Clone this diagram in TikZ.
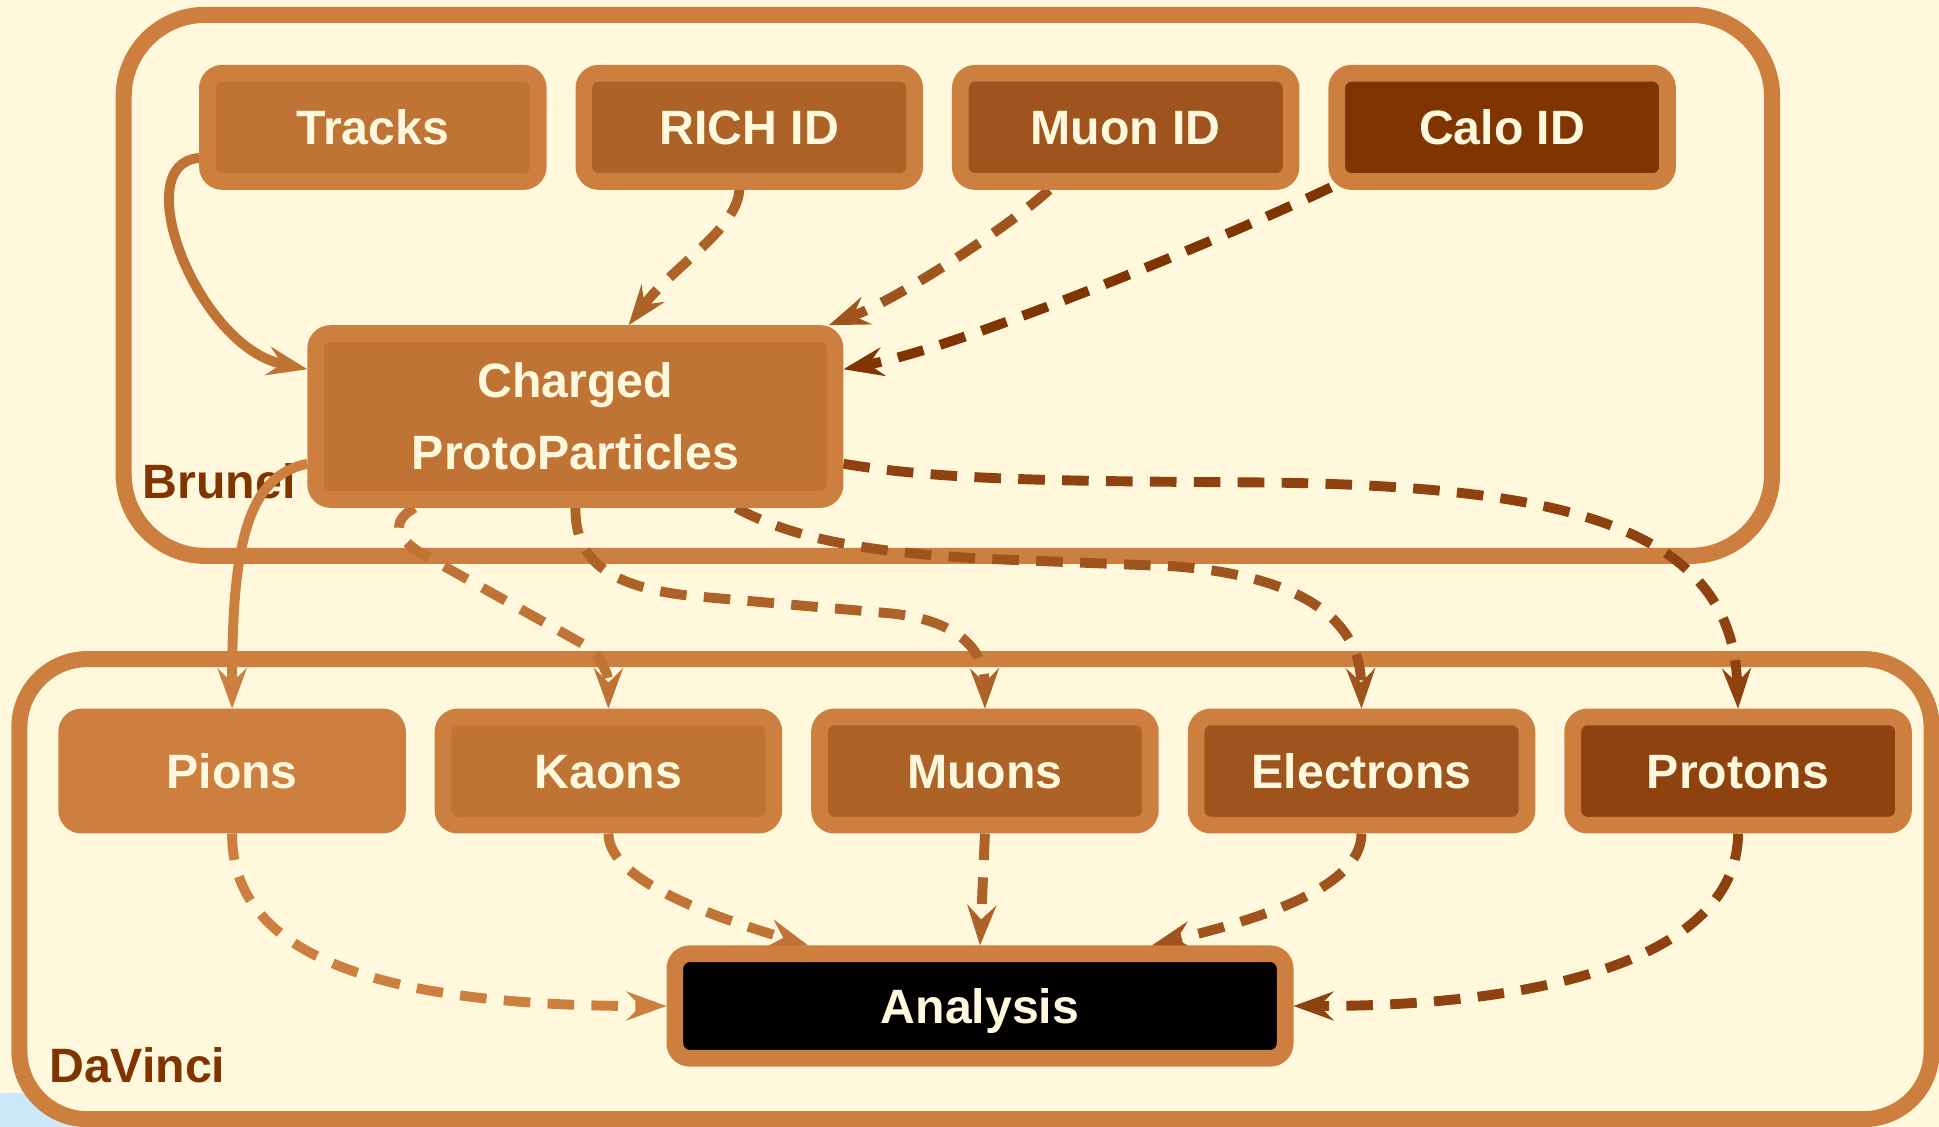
\documentclass[tikz,border=0pt]{standalone}
\usepackage{fontspec}
\setmainfont{Liberation Sans}
\usetikzlibrary{arrows.meta,calc}

% palette: bronze fading to dark brown
\definecolor{cream}{RGB}{255,248,220}
\definecolor{skyhint}{RGB}{205,232,250}
\definecolor{tone0}{RGB}{204,127,62}
\definecolor{tone1}{RGB}{191,116,54}
\definecolor{tone2}{RGB}{173,99,39}
\definecolor{tone3}{RGB}{159,83,29}
\definecolor{tone4}{RGB}{142,66,15}
\definecolor{tone5}{RGB}{128,52,0}

\pgfdeclarelayer{boxes}
\pgfdeclarelayer{links}
\pgfsetlayers{boxes,links,main}

\tikzset{
  stage/.style={draw=tone0, line width=6.5pt, rounded corners=#1, fill=cream},
  stagelabel/.style={anchor=base west, inner sep=0pt, text=tone5,
    font=\bfseries\fontsize{19.5pt}{29pt}\selectfont},
  algo/.style={draw=tone0, line width=6.75pt, rounded corners=6pt, inner sep=0pt,
    text=cream, font=\bfseries\fontsize{19.5pt}{29pt}\selectfont,
    text height=14pt, text depth=0pt, align=center,
    minimum width=133.75pt, minimum height=43.75pt},
  link/.style={line width=4pt,
    -{Stealth[length=16.5pt,width=12pt,inset=6pt,line width=0pt]}},
  weak/.style={link, dash pattern=on 10.75pt off 7pt},
}

\begin{document}
\begin{tikzpicture}[x=0.5pt, y=-0.5pt]
\useasboundingbox (0,0) rectangle (1568,911);

% background and application frames
\begin{pgfonlayer}{boxes}
  \fill[cream] (0,0) rectangle (1568,911);
  \fill[skyhint] (0,884) rectangle (60,911);
  \draw[stage=33pt] (100,12) rectangle (1433,449.5);
  \draw[stage=27.5pt] (15.7,533) rectangle (1562,905);
  \node[stagelabel] (brunel) at (115,403) {Brunel};
  \node[stagelabel] (davinci) at (39.5,875) {DaVinci};
\end{pgfonlayer}

% reconstruction inputs
\node[algo, fill=tone1] (tracks) at (301.5,103) {Tracks};
\node[algo, fill=tone2] (rich)   at (605.9,103) {RICH ID};
\node[algo, fill=tone3] (muonid) at (910.3,103) {Muon ID};
\node[algo, fill=tone5] (calo)   at (1214.7,103) {Calo ID};

\node[algo, fill=tone1, text height=43pt, minimum width=210pt, minimum height=67.1pt]
  (charged) at (465.3,336.8) {Charged\\ProtoParticles};

% particle containers
\node[algo, fill=tone0] (pions)     at (187.7,623.5) {Pions};
\node[algo, fill=tone1] (kaons)     at (492,623.5) {Kaons};
\node[algo, fill=tone2] (muons)     at (796.5,623.5) {Muons};
\node[algo, fill=tone3] (electrons) at (1101,623.5) {Electrons};
\node[algo, fill=tone4] (protons)   at (1405.5,623.5) {Protons};

\node[algo, fill=black, minimum width=246.75pt, minimum height=42.25pt]
  (analysis) at (792.5,813.5) {Analysis};

% data flow
\begin{pgfonlayer}{links}
  \draw[link, tone1] (tracks.190) .. controls (102,132) and (160,280) .. (charged.170);
  \draw[weak, tone2] ($(rich.south)+(-8,0)$) .. controls (596,185) and (545,215) .. ($(charged.north)+(43,0)$);
  \draw[weak, tone3] ($(muonid.south)+(-62,0)$) .. controls (820,180) and (730,240) .. ($(charged.north)+(205,0)$);
  \draw[weak, tone5] ($(calo.south west)+(2,-2)$) .. controls (1000,188) and (780,280) .. (charged.10);

  \draw[link, tone0] (charged.190) .. controls (200,385) and (187.7,440) .. (pions.north);
  \draw[weak, tone1] ($(charged.south)+(-130,0)$) .. controls (315,422) and (320,436) .. (345,450)
    -- (470,520) .. controls (485,528.4) and (492,545) .. (kaons.north);
  \draw[weak, tone2] (charged.south) .. controls (465,455) and (495,475) .. (560,482)
    -- (720,496) .. controls (780,502) and (796,530) .. (muons.north);
  \draw[weak, tone3] ($(charged.south)+(130,0)$) .. controls (640,435) and (700,447) .. (800,452)
    -- (950,458) .. controls (1080,468) and (1100,520) .. (electrons.north);
  \draw[weak, tone4] (charged.350) .. controls (760,388) and (850,389) .. (1000,390)
    .. controls (1250,391) and (1400,420) .. (protons.north);

  \draw[weak, tone0] (pions.south) .. controls (187,770) and (300,813.5) .. (analysis.west);
  \draw[weak, tone1] (kaons.south) .. controls (492,715) and (590,745) .. ($(analysis.north)+(-139,0)$);
  \draw[weak, tone2] (muons.south) -- (analysis.north);
  \draw[weak, tone3] (electrons.south) .. controls (1101,720) and (1010,745) .. ($(analysis.north)+(139,0)$);
  \draw[weak, tone4] (protons.south) .. controls (1405,770) and (1260,813.5) .. (analysis.east);
\end{pgfonlayer}
\end{tikzpicture}
\end{document}
